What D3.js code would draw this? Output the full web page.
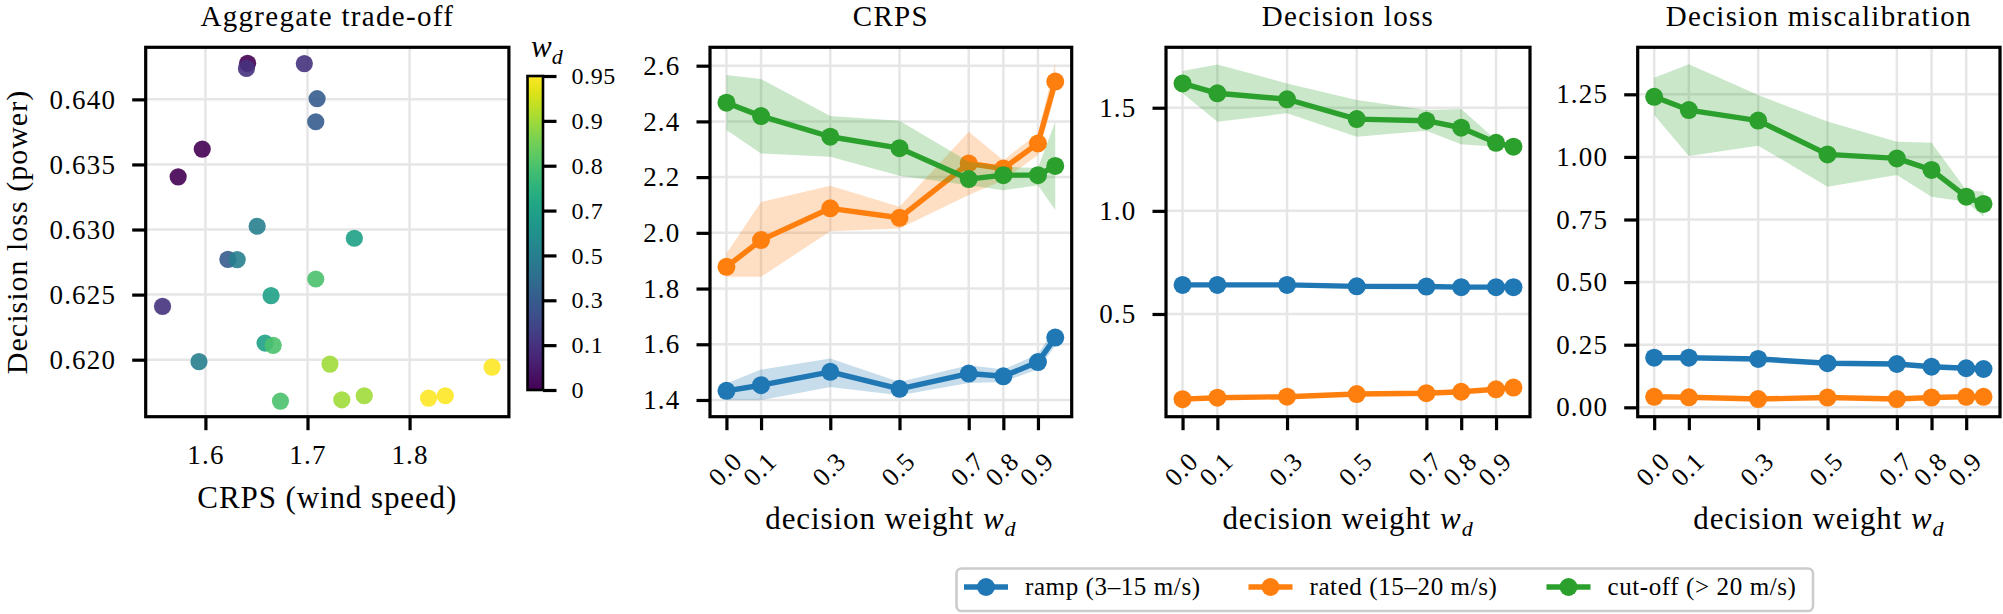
<!DOCTYPE html>
<html>
<head>
<meta charset="utf-8">
<script src="https://cdn.jsdelivr.net/npm/d3@7"></script>
<style>
  body { margin: 0; background: #fff; }
  svg text { font-family: "Liberation Serif", "DejaVu Serif", serif; fill: #000; }
</style>
</head>
<body>
<svg id="fig" width="2003" height="614" font-family="Liberation Serif, serif"></svg>
<script>
// decision weights used in the sweep
var weights = [0.0, 0.1, 0.3, 0.5, 0.7, 0.8, 0.9, 0.95];
var weightTickValues = [0.0, 0.1, 0.3, 0.5, 0.7, 0.8, 0.9];
var weightTickLabels = ["0.0", "0.1", "0.3", "0.5", "0.7", "0.8", "0.9"];
var colorbarLabels = ["0", "0.1", "0.3", "0.5", "0.7", "0.8", "0.9", "0.95"];

// aggregate trade-off, three runs per weight (index into weights)
var scatterWeightIdx = [0, 0, 0, 1, 1, 1, 2, 2, 2, 3, 3, 3, 4, 4, 4, 5, 5, 5, 6, 6, 6, 7, 7, 7];
var scatterCrps = [1.6413, 1.5969, 1.5733, 1.6402, 1.6969, 1.5580, 1.7094, 1.7081, 1.6220,
                   1.6507, 1.6311, 1.5937, 1.7459, 1.6643, 1.6584, 1.7081, 1.6664, 1.6735,
                   1.7220, 1.7336, 1.7556, 1.8808, 1.8186, 1.8350];
var scatterLoss = [0.64277, 0.63618, 0.63405, 0.64238, 0.64275, 0.62410, 0.64005, 0.63828, 0.62771,
                   0.63025, 0.62769, 0.61985, 0.62933, 0.62492, 0.62128, 0.62620, 0.62110, 0.61682,
                   0.61966, 0.61692, 0.61723, 0.61943, 0.61705, 0.61723];
var scatterXTicks = [1.6, 1.7, 1.8];
var scatterYTicks = [0.620, 0.625, 0.630, 0.635, 0.640];

// wind regimes
var regimeNames = ["ramp (3\u201315 m/s)", "rated (15\u201320 m/s)", "cut-off (> 20 m/s)"];
var regimeColors = ["#1f77b4", "#ff7f0e", "#2ca02c"];

// CRPS per regime: mean, lower, upper
var crpsRamp   = [1.433, 1.453, 1.501, 1.440, 1.495, 1.485, 1.536, 1.624];
var crpsRampLo = [1.399, 1.399, 1.447, 1.417, 1.461, 1.465, 1.510, 1.595];
var crpsRampHi = [1.459, 1.509, 1.549, 1.465, 1.525, 1.509, 1.565, 1.660];
var crpsRated   = [1.878, 1.974, 2.088, 2.054, 2.249, 2.231, 2.321, 2.543];
var crpsRatedLo = [1.842, 1.842, 2.006, 2.016, 2.136, 2.189, 2.279, 2.500];
var crpsRatedHi = [1.926, 2.111, 2.169, 2.094, 2.363, 2.261, 2.357, 2.610];
var crpsCut   = [2.467, 2.419, 2.345, 2.304, 2.193, 2.207, 2.207, 2.240];
var crpsCutLo = [2.369, 2.285, 2.273, 2.205, 2.171, 2.153, 2.171, 2.082];
var crpsCutHi = [2.567, 2.552, 2.419, 2.402, 2.255, 2.237, 2.233, 2.399];

// decision loss per regime
var lossRamp   = [0.641, 0.641, 0.641, 0.634, 0.633, 0.630, 0.630, 0.630];
var lossRampLo = [0.636, 0.636, 0.636, 0.629, 0.628, 0.625, 0.625, 0.625];
var lossRampHi = [0.646, 0.646, 0.646, 0.639, 0.638, 0.635, 0.635, 0.635];
var lossRated   = [0.087, 0.094, 0.099, 0.112, 0.116, 0.123, 0.135, 0.143];
var lossRatedLo = [0.083, 0.090, 0.095, 0.108, 0.112, 0.119, 0.131, 0.139];
var lossRatedHi = [0.091, 0.098, 0.103, 0.116, 0.120, 0.127, 0.139, 0.147];
var lossCut   = [1.618, 1.570, 1.541, 1.445, 1.437, 1.403, 1.330, 1.311];
var lossCutLo = [1.570, 1.432, 1.473, 1.359, 1.389, 1.323, 1.311, 1.300];
var lossCutHi = [1.678, 1.710, 1.618, 1.537, 1.489, 1.494, 1.343, 1.320];

// decision miscalibration per regime
var miscRamp   = [0.198, 0.198, 0.193, 0.176, 0.173, 0.162, 0.156, 0.153];
var miscRampLo = [0.194, 0.194, 0.189, 0.172, 0.169, 0.158, 0.152, 0.149];
var miscRampHi = [0.202, 0.202, 0.197, 0.180, 0.177, 0.166, 0.160, 0.157];
var miscRated   = [0.042, 0.040, 0.033, 0.039, 0.033, 0.039, 0.042, 0.042];
var miscRatedLo = [0.038, 0.036, 0.029, 0.035, 0.029, 0.035, 0.038, 0.038];
var miscRatedHi = [0.046, 0.044, 0.037, 0.043, 0.037, 0.043, 0.046, 0.046];
var miscCut   = [1.240, 1.187, 1.145, 1.010, 0.994, 0.948, 0.841, 0.812];
var miscCutLo = [1.167, 1.004, 1.045, 0.881, 0.928, 0.841, 0.821, 0.761];
var miscCutHi = [1.316, 1.370, 1.247, 1.141, 1.061, 1.057, 0.868, 0.861];

var svg = d3.select("#fig");
var TOP = 47.3, BOTTOM = 416.7;
var TICK_FONT = 27, LABEL_FONT = 31;
var SERIF = "Liberation Serif, DejaVu Serif, serif";

function styleAxis(g) {
    g.select(".domain").remove();
    g.selectAll(".tick line").attr("stroke", "#000").attr("stroke-width", 3.2);
    g.selectAll(".tick text")
        .attr("font-family", SERIF)
        .attr("font-size", TICK_FONT)
        .attr("letter-spacing", 1.2)
        .attr("fill", "#000");
    g.attr("font-family", null).attr("font-size", null);
}

function drawGrid(g, x, y, xTicks, yTicks, left, right) {
    var grid = g.append("g").attr("class", "grid");
    grid.selectAll("line.gx").data(xTicks).enter().append("line")
        .attr("x1", function (d) { return x(d); }).attr("x2", function (d) { return x(d); })
        .attr("y1", TOP).attr("y2", BOTTOM)
        .attr("stroke", "#e6e6e6").attr("stroke-width", 2.5);
    grid.selectAll("line.gy").data(yTicks).enter().append("line")
        .attr("x1", left).attr("x2", right)
        .attr("y1", function (d) { return y(d); }).attr("y2", function (d) { return y(d); })
        .attr("stroke", "#e6e6e6").attr("stroke-width", 2.5);
}

function drawFrame(g, left, right) {
    g.append("rect")
        .attr("x", left).attr("y", TOP)
        .attr("width", right - left).attr("height", BOTTOM - TOP)
        .attr("fill", "none").attr("stroke", "#000").attr("stroke-width", 3.2);
}

function addTitle(text, left, right) {
    svg.append("text")
        .attr("x", (left + right) / 2).attr("y", 26)
        .attr("text-anchor", "middle")
        .attr("font-family", SERIF)
        .attr("font-size", 29).attr("letter-spacing", 1.3)
        .text(text);
}

function addWeightLabel(left, right) {
    var t = svg.append("text")
        .attr("x", (left + right) / 2).attr("y", 528.5)
        .attr("text-anchor", "middle")
        .attr("font-family", SERIF)
        .attr("font-size", LABEL_FONT).attr("letter-spacing", 0.9);
    t.append("tspan").text("decision weight ");
    t.append("tspan").attr("font-style", "italic").text("w");
    t.append("tspan").attr("font-style", "italic").attr("font-size", 22).attr("dy", 7).text("d");
}

// ---------- panel 1: aggregate trade-off ----------
(function () {
    var left = 145.7, right = 508.9;
    var x = d3.scaleLinear().domain([1.5415, 1.8973]).range([left, right]);
    var y = d3.scaleLinear().domain([0.61562, 0.6440]).range([BOTTOM, TOP]);
    var g = svg.append("g");
    drawGrid(g, x, y, scatterXTicks, scatterYTicks, left, right);

    var pts = scatterCrps.map(function (c, i) {
        return { crps: c, loss: scatterLoss[i], k: scatterWeightIdx[i] };
    });
    g.selectAll("circle.pt").data(pts).enter().append("circle")
        .attr("class", "pt")
        .attr("cx", function (d) { return x(d.crps); })
        .attr("cy", function (d) { return y(d.loss); })
        .attr("r", 8.6)
        .attr("fill", function (d) { return d3.interpolateViridis(d.k / (weights.length - 1)); })
        .attr("fill-opacity", 0.9);

    var ax = g.append("g").attr("transform", "translate(0," + BOTTOM + ")")
        .call(d3.axisBottom(x).tickValues(scatterXTicks).tickSize(13.5).tickPadding(14)
            .tickFormat(d3.format(".1f")));
    styleAxis(ax);
    ax.selectAll(".tick text").attr("y", 47).attr("dy", 0);

    var ay = g.append("g").attr("transform", "translate(" + left + ",0)")
        .call(d3.axisLeft(y).tickValues(scatterYTicks).tickSize(13.5).tickPadding(16)
            .tickFormat(d3.format(".3f")));
    styleAxis(ay);

    drawFrame(g, left, right);
    addTitle("Aggregate trade-off", left, right);

    svg.append("text")
        .attr("x", (left + right) / 2).attr("y", 508)
        .attr("text-anchor", "middle")
        .attr("font-family", SERIF)
        .attr("font-size", LABEL_FONT).attr("letter-spacing", 0.9)
        .text("CRPS (wind speed)");
    svg.append("text")
        .attr("transform", "translate(27," + ((TOP + BOTTOM) / 2) + ") rotate(-90)")
        .attr("text-anchor", "middle")
        .attr("font-family", SERIF)
        .attr("font-size", 30).attr("letter-spacing", 1.0)
        .text("Decision loss (power)");

    // colorbar
    var cbL = 527.5, cbR = 543, cbT = 76, cbB = 390;
    var defs = svg.append("defs");
    var grad = defs.append("linearGradient").attr("id", "viridis")
        .attr("x1", 0).attr("y1", 1).attr("x2", 0).attr("y2", 0);
    d3.range(0, 1.0001, 0.05).forEach(function (t) {
        grad.append("stop").attr("offset", t).attr("stop-color", d3.interpolateViridis(t));
    });
    svg.append("rect").attr("x", cbL).attr("y", cbT)
        .attr("width", cbR - cbL).attr("height", cbB - cbT)
        .attr("fill", "url(#viridis)")
        .attr("stroke", "#000").attr("stroke-width", 2.6);
    var cbScale = d3.scaleLinear().domain([0, weights.length - 1]).range([cbB, cbT]);
    var cbAxis = svg.append("g").attr("transform", "translate(" + cbR + ",0)")
        .call(d3.axisRight(cbScale).tickValues(d3.range(weights.length)).tickSize(13.5).tickPadding(15)
            .tickFormat(function (d) { return colorbarLabels[d]; }));
    styleAxis(cbAxis);
    cbAxis.selectAll(".tick text").attr("font-size", 24).attr("letter-spacing", 0.6);

    var wl = svg.append("text").attr("x", 531).attr("y", 57)
        .attr("font-family", SERIF).attr("font-size", 31);
    wl.append("tspan").attr("font-style", "italic").text("w");
    wl.append("tspan").attr("font-style", "italic").attr("font-size", 22).attr("dy", 7).text("d");
})();

// ---------- panels 2-4: metrics against decision weight ----------
function linePanel(opts) {
    var left = opts.left, right = opts.right;
    var x = d3.scaleLinear().domain([-0.0475, 0.9975]).range([left, right]);
    var y = d3.scaleLinear().domain(opts.yDomain).range([BOTTOM, TOP]);
    var g = svg.append("g");
    drawGrid(g, x, y, weightTickValues, opts.yTicks, left, right);

    var area = d3.area()
        .x(function (d) { return x(d.w); })
        .y0(function (d) { return y(d.lo); })
        .y1(function (d) { return y(d.hi); });
    var line = d3.line()
        .x(function (d) { return x(d.w); })
        .y(function (d) { return y(d.v); });

    opts.series.forEach(function (s, si) {
        var rows = weights.map(function (w, i) {
            return { w: w, v: s.mean[i], lo: s.lo[i], hi: s.hi[i] };
        });
        var color = regimeColors[si];
        g.append("path").datum(rows).attr("d", area)
            .attr("fill", color).attr("fill-opacity", 0.25).attr("stroke", "none");
        g.append("path").datum(rows).attr("d", line)
            .attr("fill", "none").attr("stroke", color).attr("stroke-width", 5.4)
            .attr("stroke-linejoin", "round");
        g.selectAll("circle.s" + si).data(rows).enter().append("circle")
            .attr("class", "s" + si)
            .attr("cx", function (d) { return x(d.w); })
            .attr("cy", function (d) { return y(d.v); })
            .attr("r", 9)
            .attr("fill", color);
    });

    var ax = g.append("g").attr("transform", "translate(0," + BOTTOM + ")")
        .call(d3.axisBottom(x).tickValues(weightTickValues).tickSize(13.5)
            .tickFormat(function (d, i) { return weightTickLabels[i]; }));
    styleAxis(ax);
    ax.selectAll(".tick text")
        .attr("y", 0).attr("dy", "0.35em")
        .attr("text-anchor", "middle")
        .attr("font-size", 26).attr("letter-spacing", 0.8)
        .attr("transform", "translate(-2,52.3) rotate(-45)");

    var ay = g.append("g").attr("transform", "translate(" + left + ",0)")
        .call(d3.axisLeft(y).tickValues(opts.yTicks).tickSize(13.5).tickPadding(16)
            .tickFormat(d3.format(opts.yFormat)));
    styleAxis(ay);

    drawFrame(g, left, right);
    addTitle(opts.title, left, right);
    addWeightLabel(left, right);
}

linePanel({
    title: "CRPS", left: 710, right: 1071.7,
    yDomain: [1.34, 2.666], yTicks: [1.4, 1.6, 1.8, 2.0, 2.2, 2.4, 2.6], yFormat: ".1f",
    series: [
        { mean: crpsRamp, lo: crpsRampLo, hi: crpsRampHi },
        { mean: crpsRated, lo: crpsRatedLo, hi: crpsRatedHi },
        { mean: crpsCut, lo: crpsCutLo, hi: crpsCutHi }
    ]
});

linePanel({
    title: "Decision loss", left: 1166, right: 1530,
    yDomain: [0.002, 1.793], yTicks: [0.5, 1.0, 1.5], yFormat: ".1f",
    series: [
        { mean: lossRamp, lo: lossRampLo, hi: lossRampHi },
        { mean: lossRated, lo: lossRatedLo, hi: lossRatedHi },
        { mean: lossCut, lo: lossCutLo, hi: lossCutHi }
    ]
});

linePanel({
    title: "Decision miscalibration", left: 1637.7, right: 2000,
    yDomain: [-0.0375, 1.4377], yTicks: [0, 0.25, 0.5, 0.75, 1.0, 1.25], yFormat: ".2f",
    series: [
        { mean: miscRamp, lo: miscRampLo, hi: miscRampHi },
        { mean: miscRated, lo: miscRatedLo, hi: miscRatedHi },
        { mean: miscCut, lo: miscCutLo, hi: miscCutHi }
    ]
});

// ---------- legend ----------
(function () {
    var lg = svg.append("g");
    lg.append("rect")
        .attr("x", 956.5).attr("y", 568.5).attr("width", 856.5).attr("height", 42.5)
        .attr("rx", 5).attr("fill", "#fff")
        .attr("stroke", "#cccccc").attr("stroke-width", 2.6);
    var handleX = [964, 1248.5, 1546.5];
    regimeNames.forEach(function (name, i) {
        var hx = handleX[i];
        lg.append("line")
            .attr("x1", hx).attr("x2", hx + 44).attr("y1", 587).attr("y2", 587)
            .attr("stroke", regimeColors[i]).attr("stroke-width", 5.4);
        lg.append("circle").attr("cx", hx + 22).attr("cy", 587).attr("r", 9)
            .attr("fill", regimeColors[i]);
        lg.append("text")
            .attr("x", hx + 61).attr("y", 595)
            .attr("font-family", SERIF)
            .attr("font-size", 25).attr("letter-spacing", 0.6)
            .text(name);
    });
})();
</script>
</body>
</html>
